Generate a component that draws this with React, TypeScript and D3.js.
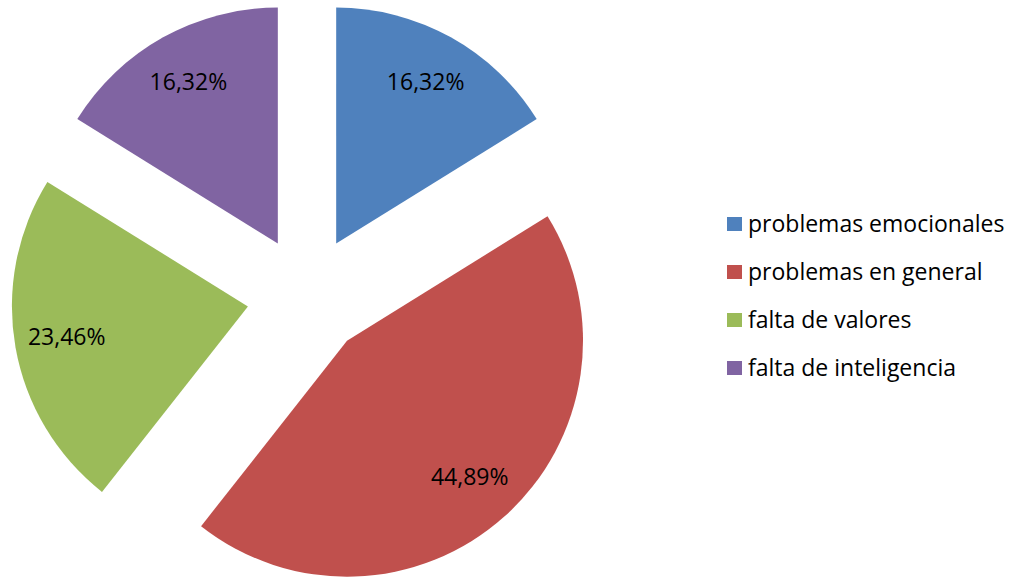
import React from 'react';
import * as d3 from 'd3';

const categories = ['problemas emocionales', 'problemas en general', 'falta de valores', 'falta de inteligencia'];
const values = [16.32, 44.89, 23.46, 16.32];
const labels = ['16,32%', '44,89%', '23,46%', '16,32%'];
const colors = ['#4F81BD', '#C0504D', '#9BBB59', '#8064A2'];

const W = 1015;
const H = 580;
const cx = 307;
const cy = 296;
const radius = 236;
const explode = 60;
const labelRadius = 184;

const App: React.FC = () => {
  const pie = d3.pie<number>().sort(null).startAngle(0).endAngle(2 * Math.PI);
  const arcs = pie(values);
  const arc = d3.arc<d3.PieArcDatum<number>>().innerRadius(0).outerRadius(radius);
  const labelArc = d3.arc<d3.PieArcDatum<number>>().innerRadius(labelRadius).outerRadius(labelRadius);

  const legendY = d3.scalePoint<string>().domain(categories).range([224, 368]);

  return (
    <svg width={W} height={H} style={{ position: 'absolute', left: 0, top: 0, fontFamily: '"Open Sans", sans-serif' }}>
      <rect width={W} height={H} fill="#fff" />
      <g transform={`translate(${cx},${cy})`}>
        {arcs.map((a, i) => {
          const mid = (a.startAngle + a.endAngle) / 2;
          const dx = Math.sin(mid) * explode;
          const dy = -Math.cos(mid) * explode;
          const [lx, ly] = labelArc.centroid(a);
          return (
            <g key={i} transform={`translate(${dx},${dy})`}>
              <path d={arc(a) || ''} fill={colors[i]} />
              <text x={lx} y={ly - 2} textAnchor="middle" dominantBaseline="central" fontSize={23} fill="#000">
                {labels[i]}
              </text>
            </g>
          );
        })}
      </g>
      <g>
        {categories.map((c, i) => (
          <g key={c} transform={`translate(727,${legendY(c)})`}>
            <rect x={0} y={-7} width={15} height={14} fill={colors[i]} />
            <text x={21} y={8} fontSize={23} fill="#000">{c}</text>
          </g>
        ))}
      </g>
    </svg>
  );
};

export default App;
